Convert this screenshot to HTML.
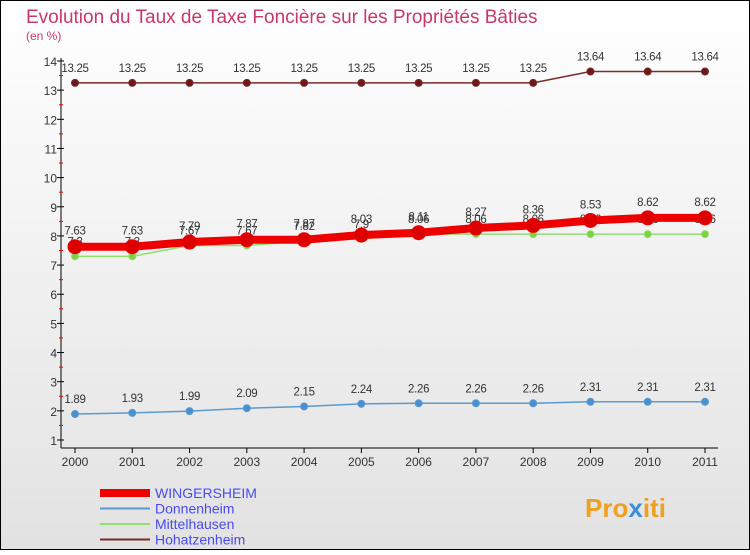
<!DOCTYPE html>
<html><head><meta charset="utf-8"><style>
body{margin:0;}
#c{width:750px;height:550px;position:relative;font-family:"Liberation Sans",sans-serif;}
svg text{font-family:"Liberation Sans",sans-serif;}
</style></head><body>
<div id="c">
<svg id="s" width="750" height="550" viewBox="0 0 750 550" xmlns="http://www.w3.org/2000/svg">
<defs><linearGradient id="bg" x1="0" y1="0" x2="0" y2="1"><stop offset="0" stop-color="#ffffff"/><stop offset="1" stop-color="#e2e2e2"/></linearGradient></defs>
<rect x="0.5" y="0.5" width="749" height="549" fill="url(#bg)" stroke="#000"/>
<text x="26" y="23" font-size="19" fill="#c8386a">Evolution du Taux de Taxe Foncière sur les Propriétés Bâties</text>
<text x="26" y="40" font-size="12" fill="#c8386a">(en %)</text>
<g id="axes"></g><g id="series"></g><g id="legend"></g>
<g><text x="585" y="517" font-size="26" font-weight="bold" fill="#f0a020">Pro<tspan fill="#3a8fd8">x</tspan>iti</text></g>
</svg></div>
<script>
const years=["2000","2001","2002","2003","2004","2005","2006","2007","2008","2009","2010","2011"];
const yTicks=[1,2,3,4,5,6,7,8,9,10,11,12,13,14];
const wingersheim=[7.63,7.63,7.79,7.87,7.87,8.03,8.11,8.27,8.36,8.53,8.62,8.62];
const donnenheim=[1.89,1.93,1.99,2.09,2.15,2.24,2.26,2.26,2.26,2.31,2.31,2.31];
const mittelhausen=[7.3,7.3,7.67,7.67,7.82,7.9,8.06,8.06,8.06,8.06,8.06,8.06];
const hohatzenheim=[13.25,13.25,13.25,13.25,13.25,13.25,13.25,13.25,13.25,13.64,13.64,13.64];
const NS="http://www.w3.org/2000/svg";
function X(i){return 75+i*(630/11);}
function Y(v){return 440-(v-1)*(379/13);}
function mk(p,t,a){const e=document.createElementNS(NS,t);for(const k in a)e.setAttribute(k,a[k]);p.appendChild(e);return e;}
const ax=document.getElementById('axes');
let l=mk(ax,'line',{x1:61,y1:58,x2:61,y2:448,stroke:'#000'});


l=mk(ax,'line',{x1:61,y1:448,x2:718,y2:448,stroke:'#000'});


yTicks.forEach(v=>{mk(ax,'line',{x1:57,y1:Y(v),x2:64,y2:Y(v),stroke:'#000'});
 if(v<14)mk(ax,'line',{x1:59,y1:Y(v+0.5),x2:63,y2:Y(v+0.5),stroke:'#e00'});
 const t=mk(ax,'text',{x:57,y:Y(v)+5,'font-size':12,fill:'#333','text-anchor':'end'});t.textContent=v;
 
 });
years.forEach((y,i)=>{mk(ax,'line',{x1:X(i),y1:448,x2:X(i),y2:453,stroke:'#000'});
 const t=mk(ax,'text',{x:X(i),y:466,'font-size':12,fill:'#333','text-anchor':'middle'});t.textContent=y;
 
 });
const sg=document.getElementById('series');
function series(name,data,col,w,r,fill,lblOff){
 const g=mk(sg,'g',{});
 
 
 mk(g,'polyline',{points:data.map((v,i)=>X(i)+','+Y(v)).join(' '),fill:'none',stroke:col,'stroke-width':w});
 data.forEach((v,i)=>{const c=mk(g,'circle',{cx:X(i),cy:Y(v),r:r,fill:fill,stroke:col,'stroke-width':1});
  
  
  const t=mk(g,'text',{x:X(i),y:Y(v)+lblOff,'font-size':11.5,fill:'#333','text-anchor':'middle','letter-spacing':'-0.3'});t.textContent=v;
  
  });
}
series('hohatzenheim',hohatzenheim,'#7a2a2a',1.5,3.5,'#6a1a1a',-11);
series('donnenheim',donnenheim,'#5a9ad0',1.5,3.5,'#4a90d0',-11);
series('mittelhausen',mittelhausen,'#90e070',1.5,3.5,'#80d040',-11);
series('wingersheim',wingersheim,'#ee0000',8,7,'#dd0000',-12);
const lg=document.getElementById('legend');
const items=[["WINGERSHEIM","#ee0000",8],["Donnenheim","#5a9ad0",2],["Mittelhausen","#90e070",2],["Hohatzenheim","#7a2a2a",2]];
items.forEach((it,i)=>{const y=493+i*15.5;
 const g=mk(lg,'g',{});
 
 
 mk(g,'line',{x1:100,y1:y,x2:150,y2:y,stroke:it[1],'stroke-width':it[2]});
 const t=mk(g,'text',{x:155,y:y+5,'font-size':14,fill:'#4a4aee'});t.textContent=it[0];});
</script>
</body></html>
